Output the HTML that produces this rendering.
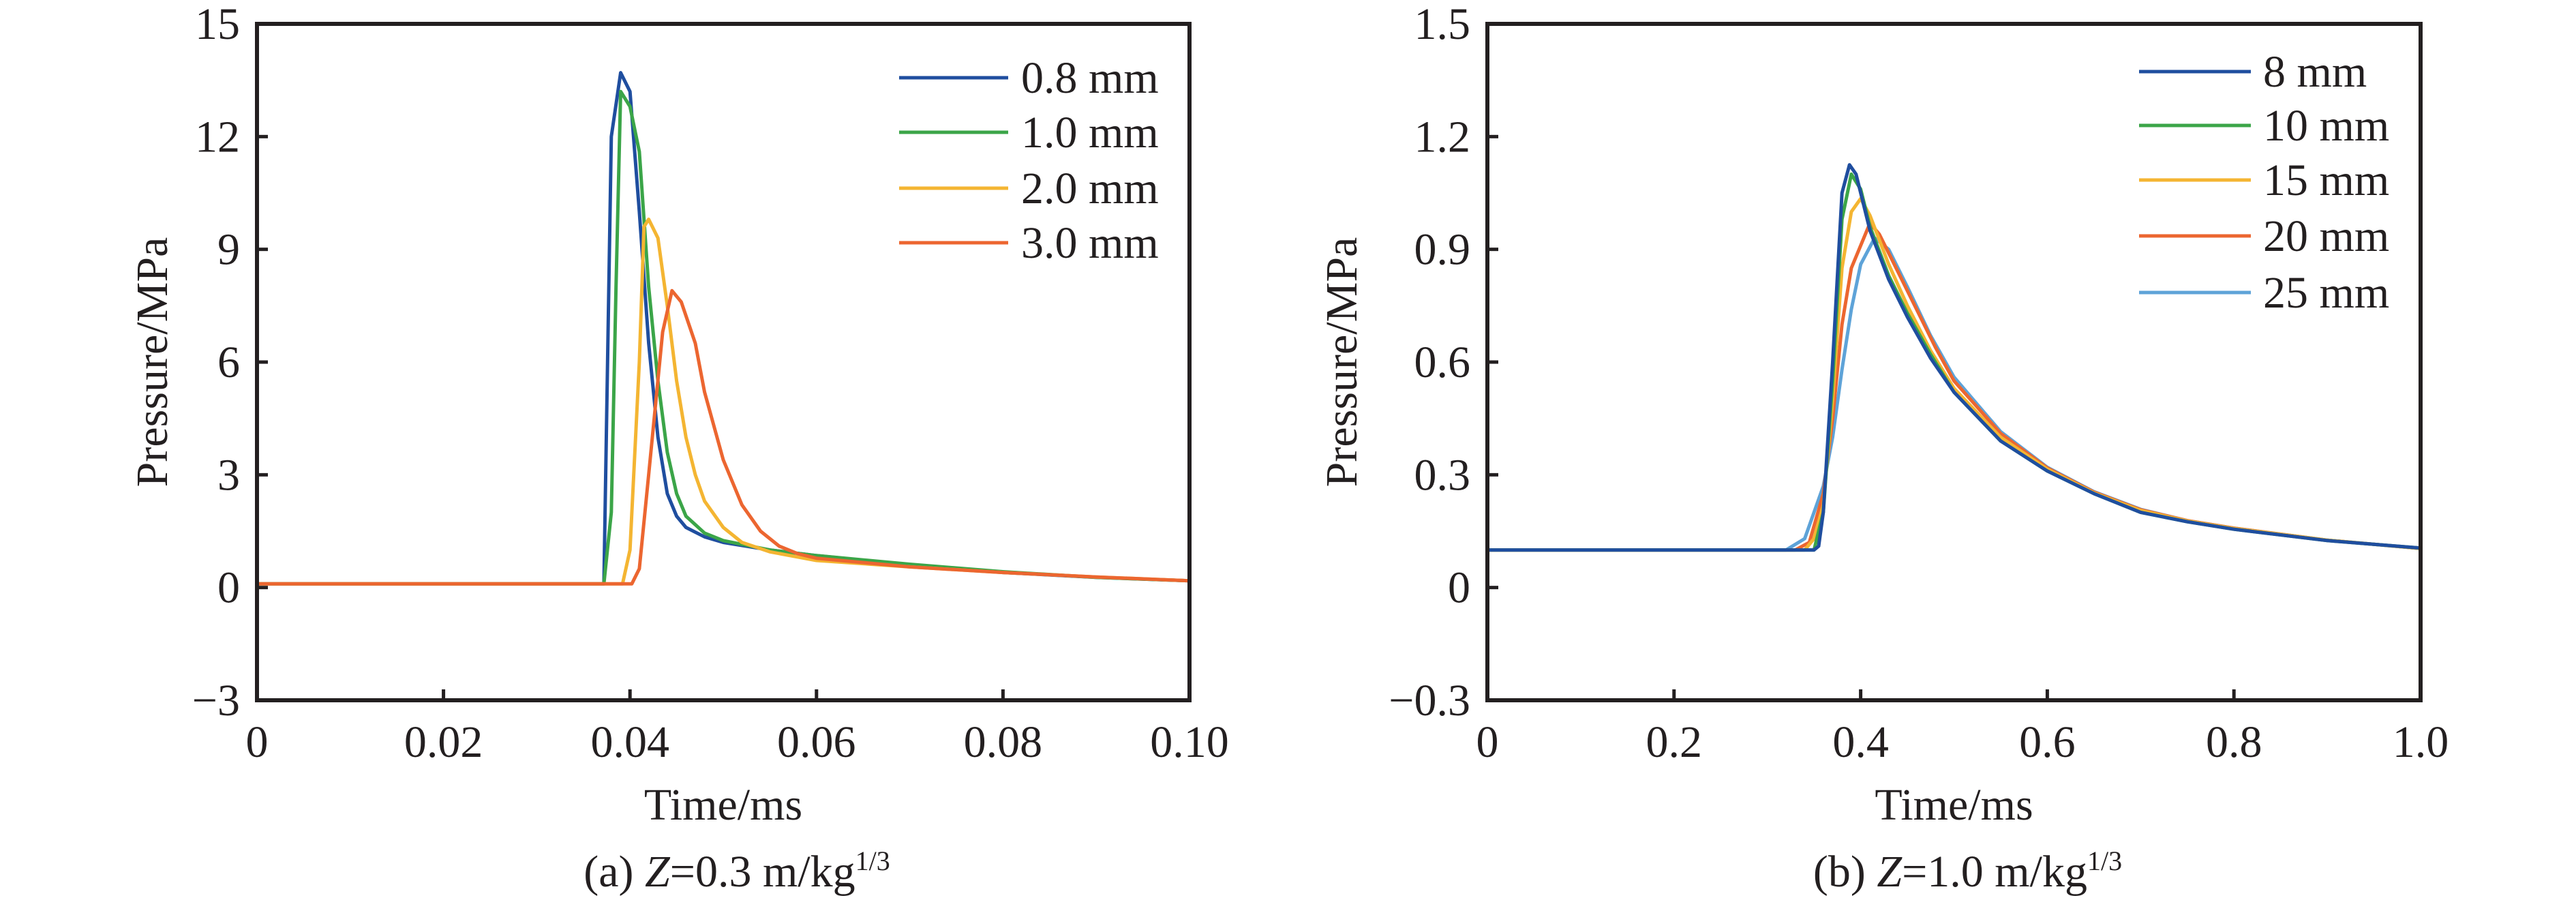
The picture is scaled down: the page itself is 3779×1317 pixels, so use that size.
<!DOCTYPE html>
<html><head><meta charset="utf-8"><style>
html,body{margin:0;padding:0;background:#fff;}
svg{display:block;font-family:"Liberation Serif",serif;}
</style></head><body>
<svg id="chart" width="3779" height="1317" viewBox="0 0 3779 1317" xmlns="http://www.w3.org/2000/svg"></svg>
<script>
// ---- Panel (a) data ----
const aXTicks = [0, 0.02, 0.04, 0.06, 0.08, 0.10];
const aXTickLabels = ["0", "0.02", "0.04", "0.06", "0.08", "0.10"];
const aYTicks = [-3, 0, 3, 6, 9, 12, 15];
const aYTickLabels = ["\u22123", "0", "3", "6", "9", "12", "15"];
const aNames = ["0.8 mm", "1.0 mm", "2.0 mm", "3.0 mm"];
const aT08 = [0,0.0372,0.038,0.039,0.040,0.041,0.042,0.043,0.044,0.045,0.046,0.048,0.05,0.055,0.06,0.07,0.08,0.09,0.1];
const aP08 = [0.1,0.1,12,13.7,13.2,10,6.5,4,2.5,1.9,1.6,1.35,1.2,1.0,0.85,0.6,0.4,0.27,0.18];
const aT10 = [0,0.0372,0.038,0.0385,0.039,0.040,0.041,0.042,0.043,0.044,0.045,0.046,0.048,0.05,0.055,0.06,0.07,0.08,0.09,0.1];
const aP10 = [0.1,0.1,2,8,13.2,12.8,11.6,8,5.5,3.6,2.5,1.9,1.45,1.25,1.0,0.85,0.62,0.42,0.27,0.18];
const aT20 = [0,0.0392,0.040,0.041,0.0415,0.042,0.043,0.044,0.045,0.046,0.047,0.048,0.05,0.052,0.055,0.06,0.07,0.08,0.09,0.1];
const aP20 = [0.1,0.1,1.0,6,9.6,9.8,9.3,7.5,5.5,4,3,2.3,1.6,1.2,0.95,0.72,0.55,0.4,0.28,0.18];
const aT30 = [0,0.0402,0.041,0.042,0.0435,0.0445,0.0455,0.047,0.048,0.05,0.052,0.054,0.056,0.058,0.06,0.07,0.08,0.09,0.1];
const aP30 = [0.1,0.1,0.5,3,6.8,7.9,7.6,6.5,5.2,3.4,2.2,1.5,1.1,0.9,0.78,0.55,0.4,0.28,0.18];

// ---- Panel (b) data ----
const bXTicks = [0, 0.2, 0.4, 0.6, 0.8, 1.0];
const bXTickLabels = ["0", "0.2", "0.4", "0.6", "0.8", "1.0"];
const bYTicks = [-0.3, 0, 0.3, 0.6, 0.9, 1.2, 1.5];
const bYTickLabels = ["\u22120.3", "0", "0.3", "0.6", "0.9", "1.2", "1.5"];
const bNames = ["8 mm", "10 mm", "15 mm", "20 mm", "25 mm"];
const bT8 = [0,0.35,0.355,0.36,0.37,0.38,0.388,0.395,0.41,0.43,0.45,0.475,0.5,0.55,0.6,0.65,0.7,0.75,0.8,0.9,1.0];
const bP8 = [0.1,0.1,0.11,0.2,0.6,1.05,1.125,1.1,0.95,0.82,0.72,0.61,0.52,0.39,0.31,0.25,0.2,0.175,0.155,0.125,0.105];
const bT10 = [0,0.35,0.36,0.37,0.38,0.39,0.4,0.41,0.43,0.45,0.475,0.5,0.55,0.6,0.65,0.7,0.75,0.8,0.9,1.0];
const bP10 = [0.1,0.1,0.2,0.55,0.98,1.1,1.06,0.96,0.83,0.73,0.62,0.52,0.39,0.31,0.25,0.2,0.175,0.155,0.125,0.105];
const bT15 = [0,0.34,0.35,0.36,0.37,0.38,0.39,0.4,0.41,0.43,0.45,0.475,0.5,0.55,0.6,0.65,0.7,0.75,0.8,0.9,1.0];
const bP15 = [0.1,0.1,0.13,0.22,0.5,0.85,1.0,1.035,0.99,0.86,0.75,0.63,0.53,0.4,0.315,0.252,0.205,0.177,0.157,0.126,0.104];
const bT20 = [0,0.33,0.345,0.36,0.37,0.38,0.39,0.41,0.42,0.44,0.46,0.48,0.5,0.55,0.6,0.65,0.7,0.75,0.8,0.9,1.0];
const bP20 = [0.1,0.1,0.12,0.25,0.45,0.7,0.85,0.97,0.94,0.84,0.74,0.64,0.55,0.41,0.318,0.254,0.207,0.178,0.158,0.126,0.104];
const bT25 = [0,0.32,0.34,0.36,0.37,0.38,0.39,0.4,0.415,0.43,0.45,0.475,0.5,0.55,0.6,0.65,0.7,0.75,0.8,0.9,1.0];
const bP25 = [0.1,0.1,0.13,0.27,0.4,0.58,0.74,0.86,0.93,0.9,0.8,0.67,0.56,0.415,0.32,0.255,0.208,0.178,0.158,0.126,0.104];

const blue="#1f4e9f", green="#3ba548", yellow="#f4b532", orange="#ec6630", lblue="#5ea3d8";
const NS="http://www.w3.org/2000/svg";
const svg=document.getElementById('chart');
function mk(tag, attrs, parent){const e=document.createElementNS(NS,tag);for(const k in attrs)e.setAttribute(k,attrs[k]);(parent||svg).appendChild(e);return e;}

function panel(cfg){
  const g=mk('g',{});
  
  
  const L=cfg.x0,R=cfg.x1,T=35,B=1027;
  const sx=v=>L+(v-cfg.xmin)/(cfg.xmax-cfg.xmin)*(R-L);
  const sy=v=>B-(v-cfg.ymin)/(cfg.ymax-cfg.ymin)*(B-T);
  const drawOrder=cfg.reverseDraw?cfg.series.slice().reverse():cfg.series;
  drawOrder.forEach((s)=>{
    const d=s.t.map((t,j)=>(j?'L':'M')+sx(t).toFixed(1)+','+sy(s.p[j]).toFixed(1)).join(' ');
    const p=mk('path',{d:d,fill:'none',stroke:s.c,'stroke-width':5,'stroke-linejoin':'round'},g);
    
    
  });
  const fr=mk('rect',{x:L,y:T,width:R-L,height:B-T,fill:'none',stroke:'#231f20','stroke-width':6},g);
  
  
  cfg.xt.forEach((v,i)=>{
    mk('line',{x1:sx(v),x2:sx(v),y1:B,y2:B-16,stroke:'#231f20','stroke-width':5},g);
    const t=mk('text',{x:sx(v),y:1110,'font-size':66,'text-anchor':'middle',fill:'#231f20'},g);
    t.textContent=cfg.xl[i];
    
    
  });
  cfg.yt.forEach((v,i)=>{
    mk('line',{x1:L,x2:L+16,y1:sy(v),y2:sy(v),stroke:'#231f20','stroke-width':5},g);
    const t=mk('text',{x:cfg.ylabX,y:sy(v)+22,'font-size':66,'text-anchor':'end',fill:'#231f20'},g);
    t.textContent=cfg.yl[i];
    
    
  });
  const xt=mk('text',{x:(L+R)/2,y:1202,'font-size':66,'text-anchor':'middle',fill:'#231f20'},g);
  xt.textContent='Time/ms';
  
  
  const yt=mk('text',{x:0,y:0,'font-size':66,'text-anchor':'middle',fill:'#231f20',transform:'translate('+(cfg.ytitleX)+',531) rotate(-90)'},g);
  yt.textContent='Pressure/MPa';
  
  
  cfg.series.forEach((s,i)=>{
    const y=cfg.legY[i];
    const ln=mk('line',{x1:cfg.legX0,x2:cfg.legX1,y1:y,y2:y,stroke:s.c,'stroke-width':5},g);
    
    
    const t=mk('text',{x:cfg.legTX,y:y+22,'font-size':66,fill:'#231f20'},g);
    t.textContent=s.n;
    
    
  });
  const cap=mk('text',{x:(L+R)/2+20,y:1300,'font-size':66,'text-anchor':'middle',fill:'#231f20'},g);
  cap.innerHTML=cfg.cap;
  
  
}

panel({id:'panel-a',x0:377,x1:1745,xmin:0,xmax:0.1,ymin:-3,ymax:15,
  xt:aXTicks,xl:aXTickLabels,yt:aYTicks,yl:aYTickLabels,ylabX:352,ytitleX:245,
  legX0:1319,legX1:1479,legTX:1498,legY:[114,194,276,356],reverseDraw:false,
  cap:'(a) <tspan font-style="italic">Z</tspan>=0.3 m/kg<tspan font-size="40" dy="-24">1/3</tspan>',
  series:[{n:aNames[0],t:aT08,p:aP08,c:blue},{n:aNames[1],t:aT10,p:aP10,c:green},{n:aNames[2],t:aT20,p:aP20,c:yellow},{n:aNames[3],t:aT30,p:aP30,c:orange}]});
panel({id:'panel-b',x0:2182,x1:3551,xmin:0,xmax:1,ymin:-0.3,ymax:1.5,
  xt:bXTicks,xl:bXTickLabels,yt:bYTicks,yl:bYTickLabels,ylabX:2157,ytitleX:1990,
  legX0:3138,legX1:3302,legTX:3320,legY:[105,184,264,346,429],reverseDraw:true,
  cap:'(b) <tspan font-style="italic">Z</tspan>=1.0 m/kg<tspan font-size="40" dy="-24">1/3</tspan>',
  series:[{n:bNames[0],t:bT8,p:bP8,c:blue},{n:bNames[1],t:bT10,p:bP10,c:green},{n:bNames[2],t:bT15,p:bP15,c:yellow},{n:bNames[3],t:bT20,p:bP20,c:orange},{n:bNames[4],t:bT25,p:bP25,c:lblue}]});
</script>
</body></html>
